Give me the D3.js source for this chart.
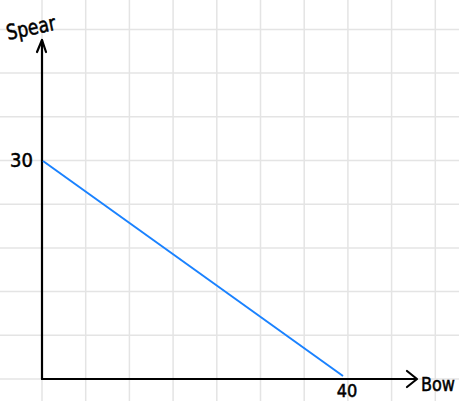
<!DOCTYPE html>
<html>
<head>
<meta charset="utf-8">
<script src="https://d3js.org/d3.v7.min.js"></script>
<style>
  body { margin: 0; background: #fff; }
  text { font-family: "DejaVu Sans Condensed", "DejaVu Sans", sans-serif; fill: #000; stroke: #000; stroke-width: 0.5; }
</style>
</head>
<body>
<div id="chart"></div>
<script>
// data
const xLabel = "Bow";
const yLabel = "Spear";
const linePoints = [{bow: 0, spear: 30}, {bow: 40, spear: 0}];
const xTicks = [40];
const yTicks = [30];
const gridCols = d3.range(0, 10);   // grid squares
const gridRows = d3.range(-1, 9);

const W = 459, H = 401;
const origin = {x: 42, y: 379};
const cell = 43.7;

const svg = d3.select("#chart").append("svg")
  .attr("width", W).attr("height", H);

const x = d3.scaleLinear().domain([0, 40]).range([origin.x + 1, 343]);
const y = d3.scaleLinear().domain([0, 30]).range([origin.y - 3, 161]);
const gx = d3.scaleLinear().domain([0, 1]).range([origin.x, origin.x + cell]);
const gy = d3.scaleLinear().domain([0, 1]).range([origin.y, origin.y - cell]);

// grid
svg.append("g").selectAll("line").data(gridCols).join("line")
  .attr("x1", d => gx(d)).attr("x2", d => gx(d))
  .attr("y1", 0).attr("y2", H)
  .attr("stroke", "#e4e4e4").attr("stroke-width", 1.5);
svg.append("g").selectAll("line").data(gridRows).join("line")
  .attr("y1", d => gy(d)).attr("y2", d => gy(d))
  .attr("x1", 0).attr("x2", W)
  .attr("stroke", "#e4e4e4").attr("stroke-width", 1.5);

// axes
const axes = svg.append("g").attr("stroke", "#000").attr("stroke-width", 2.2)
  .attr("fill", "none").attr("stroke-linecap", "round").attr("stroke-linejoin", "round");
axes.append("path").attr("d", `M${origin.x},${origin.y} V40`);
axes.append("path").attr("d", `M${origin.x - 5},52 L${origin.x},40 L${origin.x + 4},52`);
axes.append("path").attr("d", `M${origin.x},${origin.y} H416`);
axes.append("path").attr("d", `M407,371 L417,379 L407,387`);

// line
svg.append("path")
  .datum(linePoints)
  .attr("d", d3.line().x(d => x(d.bow)).y(d => y(d.spear)))
  .attr("stroke", "#1a82ff").attr("stroke-width", 2).attr("fill", "none");

// labels
svg.append("text").attr("x", 8).attr("y", 40).attr("font-size", 21)
  .attr("textLength", 50).attr("lengthAdjust", "spacingAndGlyphs")
  .attr("transform", "rotate(-12 8 40)").text(yLabel);
svg.append("text").attr("x", 421).attr("y", 391).attr("font-size", 20)
  .attr("textLength", 34).attr("lengthAdjust", "spacingAndGlyphs")
  .text(xLabel);
svg.selectAll(".yt").data(yTicks).join("text").attr("class", "yt")
  .attr("x", 33).attr("y", d => y(d) + 6).attr("text-anchor", "end")
  .attr("font-size", 20).text(d => d);
svg.selectAll(".xt").data(xTicks).join("text").attr("class", "xt")
  .attr("x", d => x(d) + 4).attr("y", 397).attr("text-anchor", "middle")
  .attr("font-size", 18).text(d => d);
</script>
</body>
</html>
